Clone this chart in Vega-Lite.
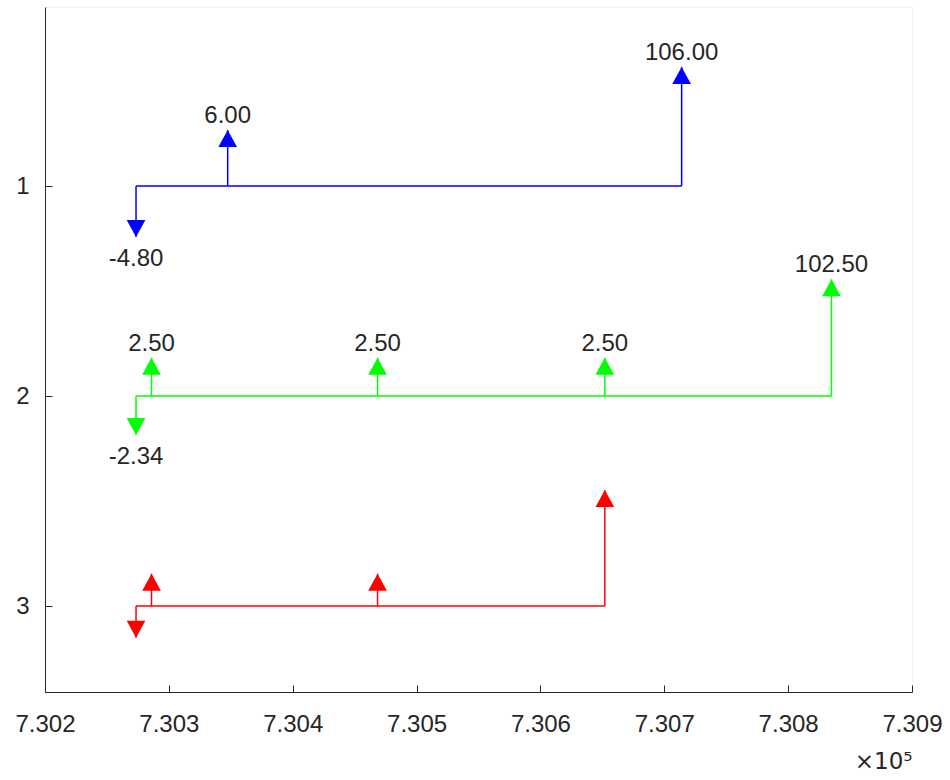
{
  "$schema": "https://vega.github.io/schema/vega-lite/v6.json",
  "width": 867,
  "height": 685,
  "autosize": "none",
  "padding": {"left": 45, "top": 7, "right": 38, "bottom": 88},
  "background": "white",
  "config": {
    "view": {"stroke": "#f0f0f0"},
    "font": "Liberation Sans",
    "axis": {
      "grid": false,
      "domainColor": "#262626",
      "tickColor": "#262626",
      "labelColor": "#262626",
      "titleColor": "#262626",
      "labelFontSize": 24,
      "titleFontSize": 24,
      "titleFontWeight": "normal",
      "tickSize": -7,
      "labelFlush": false,
      "labelOverlap": false
    }
  },
  "data": {
    "values": [
      {"series": "1", "level": 1, "date": 730273.5, "tip": 1.243, "dir": "down", "label": "-4.80"},
      {"series": "1", "level": 1, "date": 730347.5, "tip": 0.733, "dir": "up", "label": "6.00"},
      {"series": "1", "level": 1, "date": 730714, "tip": 0.433, "dir": "up", "label": "106.00"},
      {"series": "2", "level": 2, "date": 730273.5, "tip": 2.186, "dir": "down", "label": "-2.34"},
      {"series": "2", "level": 2, "date": 730286, "tip": 1.818, "dir": "up", "label": "2.50"},
      {"series": "2", "level": 2, "date": 730468.5, "tip": 1.818, "dir": "up", "label": "2.50"},
      {"series": "2", "level": 2, "date": 730652, "tip": 1.818, "dir": "up", "label": "2.50"},
      {"series": "2", "level": 2, "date": 730835, "tip": 1.444, "dir": "up", "label": "102.50"},
      {"series": "3", "level": 3, "date": 730273.5, "tip": 3.151, "dir": "down", "label": ""},
      {"series": "3", "level": 3, "date": 730286, "tip": 2.846, "dir": "up", "label": ""},
      {"series": "3", "level": 3, "date": 730468.5, "tip": 2.846, "dir": "up", "label": ""},
      {"series": "3", "level": 3, "date": 730652, "tip": 2.448, "dir": "up", "label": ""}
    ]
  },
  "layer": [
    {
      "mark": {"type": "rule", "strokeWidth": 1.5},
      "encoding": {
        "x": {
          "aggregate": "min",
          "field": "date",
          "type": "quantitative",
          "scale": {"domain": [730200, 730900], "nice": false, "zero": false},
          "axis": {
            "values": [730200, 730300, 730400, 730500, 730600, 730700, 730800, 730900],
            "labelExpr": "format(datum.value / 100000, '.3f')",
            "labelPadding": 27,
            "title": "×10⁵",
            "titleFont": "DejaVu Sans",
            "titleFontSize": 23,
            "titleAnchor": "end",
            "titleAlign": "right",
            "titlePadding": 14
          }
        },
        "x2": {"aggregate": "max", "field": "date"},
        "y": {
          "field": "level",
          "type": "quantitative",
          "scale": {"domain": [0.1476, 3.4095], "reverse": true, "nice": false, "zero": false},
          "axis": {"values": [1, 2, 3], "format": "d", "labelPadding": 23, "title": null}
        },
        "color": {
          "field": "series",
          "type": "nominal",
          "scale": {"domain": ["1", "2", "3"], "range": ["#0000ff", "#00ff00", "#ff0000"]},
          "legend": null
        }
      }
    },
    {
      "mark": {"type": "rule", "strokeWidth": 1.5},
      "encoding": {
        "x": {"field": "date", "type": "quantitative"},
        "y": {"field": "level", "type": "quantitative"},
        "y2": {"field": "tip"},
        "color": {"field": "series", "type": "nominal"}
      }
    },
    {
      "mark": {"type": "point", "filled": true, "size": 289, "opacity": 1, "strokeWidth": 0},
      "encoding": {
        "x": {"field": "date", "type": "quantitative"},
        "y": {"field": "tip", "type": "quantitative"},
        "shape": {
          "field": "dir",
          "type": "nominal",
          "scale": {"domain": ["up", "down"], "range": ["M0,0L-1.1,2L1.1,2Z", "M0,0L-1.1,-2L1.1,-2Z"]},
          "legend": null
        },
        "color": {"field": "series", "type": "nominal"}
      }
    },
    {
      "transform": [{"filter": "datum.dir == 'up' && datum.label != ''"}],
      "mark": {"type": "text", "fontSize": 24, "fill": "#262626", "baseline": "alphabetic", "align": "center", "dy": -7},
      "encoding": {
        "x": {"field": "date", "type": "quantitative"},
        "y": {"field": "tip", "type": "quantitative"},
        "text": {"field": "label"}
      }
    },
    {
      "transform": [{"filter": "datum.dir == 'down' && datum.label != ''"}],
      "mark": {"type": "text", "fontSize": 24, "fill": "#262626", "baseline": "alphabetic", "align": "center", "dy": 29},
      "encoding": {
        "x": {"field": "date", "type": "quantitative"},
        "y": {"field": "tip", "type": "quantitative"},
        "text": {"field": "label"}
      }
    }
  ]
}
